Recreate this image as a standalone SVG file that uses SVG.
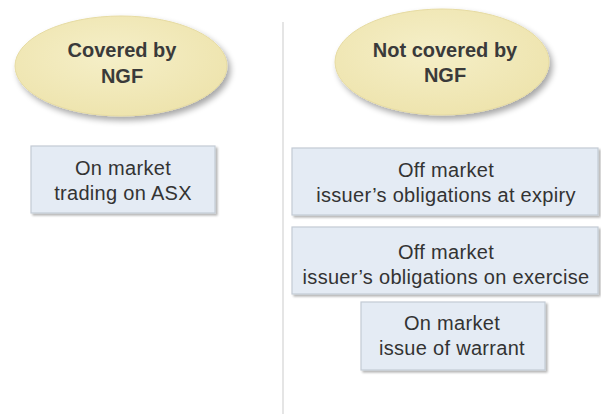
<svg xmlns="http://www.w3.org/2000/svg" width="601" height="414" viewBox="0 0 601 414">
<defs>
<radialGradient id="eg" cx="0.45" cy="0.4" r="0.6">
<stop offset="0" stop-color="#F5EFC8"/>
<stop offset="1" stop-color="#EEE4AE"/>
</radialGradient>
<filter id="esh" x="-20%" y="-20%" width="150%" height="160%">
<feGaussianBlur in="SourceAlpha" stdDeviation="3"/>
<feOffset dx="3" dy="4" result="b"/>
<feComponentTransfer><feFuncA type="linear" slope="0.35"/></feComponentTransfer>
<feMerge><feMergeNode/><feMergeNode in="SourceGraphic"/></feMerge>
</filter>
<filter id="bsh" x="-10%" y="-10%" width="130%" height="140%">
<feGaussianBlur in="SourceAlpha" stdDeviation="1.2"/>
<feOffset dx="2" dy="2" result="b"/>
<feComponentTransfer><feFuncA type="linear" slope="0.3"/></feComponentTransfer>
<feMerge><feMergeNode/><feMergeNode in="SourceGraphic"/></feMerge>
</filter>
</defs>
<style>
.ell{fill:url(#eg);stroke:#E6DBA2;stroke-width:1;filter:url(#esh)}
.box{fill:#E4EBF4;stroke:#C3CBD4;stroke-width:1.2;filter:url(#bsh)}
.et{font-family:"Liberation Sans",Arial,sans-serif;font-size:20px;font-weight:bold;fill:#3A3A3A;text-anchor:middle}
.bt{font-family:"Liberation Sans",Arial,sans-serif;font-size:20px;letter-spacing:0.3px;fill:#333333;text-anchor:middle}
</style>
<rect width="601" height="414" fill="#FFFFFF"/>
<g id="connectors">
<line x1="283" y1="22" x2="283" y2="414" stroke="#DDDDDD" stroke-width="1.5"/>
</g>
<g id="covered">
<ellipse class="ell" cx="121" cy="66" rx="106" ry="50"/>
<text class="et" x="122" y="57">Covered by</text>
<text class="et" x="122" y="83">NGF</text>
</g>
<g id="not-covered">
<ellipse class="ell" cx="442" cy="62" rx="107" ry="53"/>
<text class="et" x="445" y="57">Not covered by</text>
<text class="et" x="445" y="82">NGF</text>
</g>
<g id="on-market-trading">
<rect class="box" x="31" y="146" width="184" height="67"/>
<text class="bt" x="123" y="175">On market</text>
<text class="bt" x="123" y="200">trading on ASX</text>
</g>
<g id="off-market-expiry">
<rect class="box" x="292" y="148" width="306" height="67"/>
<text class="bt" x="446" y="177">Off market</text>
<text class="bt" x="446" y="202">issuer’s obligations at expiry</text>
</g>
<g id="off-market-exercise">
<rect class="box" x="292" y="227" width="306" height="67"/>
<text class="bt" x="446" y="259">Off market</text>
<text class="bt" x="446" y="284">issuer’s obligations on exercise</text>
</g>
<g id="on-market-issue">
<rect class="box" x="361" y="302" width="184" height="68"/>
<text class="bt" x="452" y="330">On market</text>
<text class="bt" x="452" y="355">issue of warrant</text>
</g>
</svg>
